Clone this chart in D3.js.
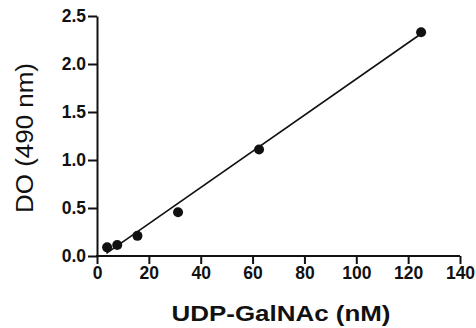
<!DOCTYPE html>
<html>
<head>
<meta charset="utf-8">
<script src="https://cdn.jsdelivr.net/npm/d3@7"></script>
<style>
  html, body { margin: 0; padding: 0; background: #fff; }
  svg { display: block; font-family: "Liberation Sans", Arial, sans-serif; }
</style>
</head>
<body>
<svg id="chart" width="476" height="328"></svg>
<script>
// UDP-GalNAc standard curve (2-fold dilutions)
const concNM = [3.9, 7.8, 15.6, 31.25, 62.5, 125];
const absorbance = [0.09, 0.115, 0.21, 0.455, 1.11, 2.33];

// linear fit endpoints
const fitX = [3.6, 125];
const fitY = [0.028, 2.315];

const xTicks = [0, 20, 40, 60, 80, 100, 120, 140];
const yTicks = [0, 0.5, 1.0, 1.5, 2.0, 2.5];

const svg = d3.select('#chart');

const x = d3.scaleLinear().domain([0, 140]).range([97, 460]);
const y = d3.scaleLinear().domain([0, 2.5]).range([256, 16]);

// x axis
const xAxis = svg.append('g')
  .attr('transform', `translate(0,${y(0)})`)
  .call(d3.axisBottom(x).tickValues(xTicks).tickSize(8).tickSizeOuter(0).tickPadding(3));

// y axis
const yAxis = svg.append('g')
  .attr('transform', `translate(${x(0)},0)`)
  .call(d3.axisLeft(y).tickValues(yTicks).tickFormat(d3.format('.1f')).tickSize(9).tickSizeOuter(0).tickPadding(2));

[xAxis, yAxis].forEach(g => {
  g.select('.domain').attr('stroke', '#111').attr('stroke-width', 2);
  g.selectAll('.tick line').attr('stroke', '#111').attr('stroke-width', 2);
  g.selectAll('.tick text')
    .attr('fill', '#111')
    .style('font-size', '17.5px')
    .style('font-weight', 'bold');
});
// extend x domain a hair left so the corner is closed
xAxis.select('.domain').attr('d', `M${x(0) - 1},0H${x(140)}`);

// fit line
const line = d3.line().x(d => x(d[0])).y(d => y(d[1]));
svg.append('path')
  .datum(d3.zip(fitX, fitY))
  .attr('d', line)
  .attr('fill', 'none')
  .attr('stroke', '#111')
  .attr('stroke-width', 1.6);

// data points
svg.append('g')
  .selectAll('circle')
  .data(d3.zip(concNM, absorbance))
  .enter().append('circle')
  .attr('cx', d => x(d[0]))
  .attr('cy', d => y(d[1]))
  .attr('r', 5)
  .attr('fill', '#111');

// axis titles
svg.append('text')
  .attr('x', 281)
  .attr('y', 321)
  .attr('text-anchor', 'middle')
  .attr('textLength', 219)
  .attr('lengthAdjust', 'spacingAndGlyphs')
  .style('font-size', '21.5px')
  .style('font-weight', 'bold')
  .attr('fill', '#111')
  .text('UDP-GalNAc (nM)');

svg.append('text')
  .attr('transform', 'translate(33,138) rotate(-90)')
  .attr('text-anchor', 'middle')
  .attr('textLength', 150)
  .attr('lengthAdjust', 'spacingAndGlyphs')
  .style('font-size', '23px')
  .attr('fill', '#111')
  .text('DO (490 nm)');
</script>
</body>
</html>
